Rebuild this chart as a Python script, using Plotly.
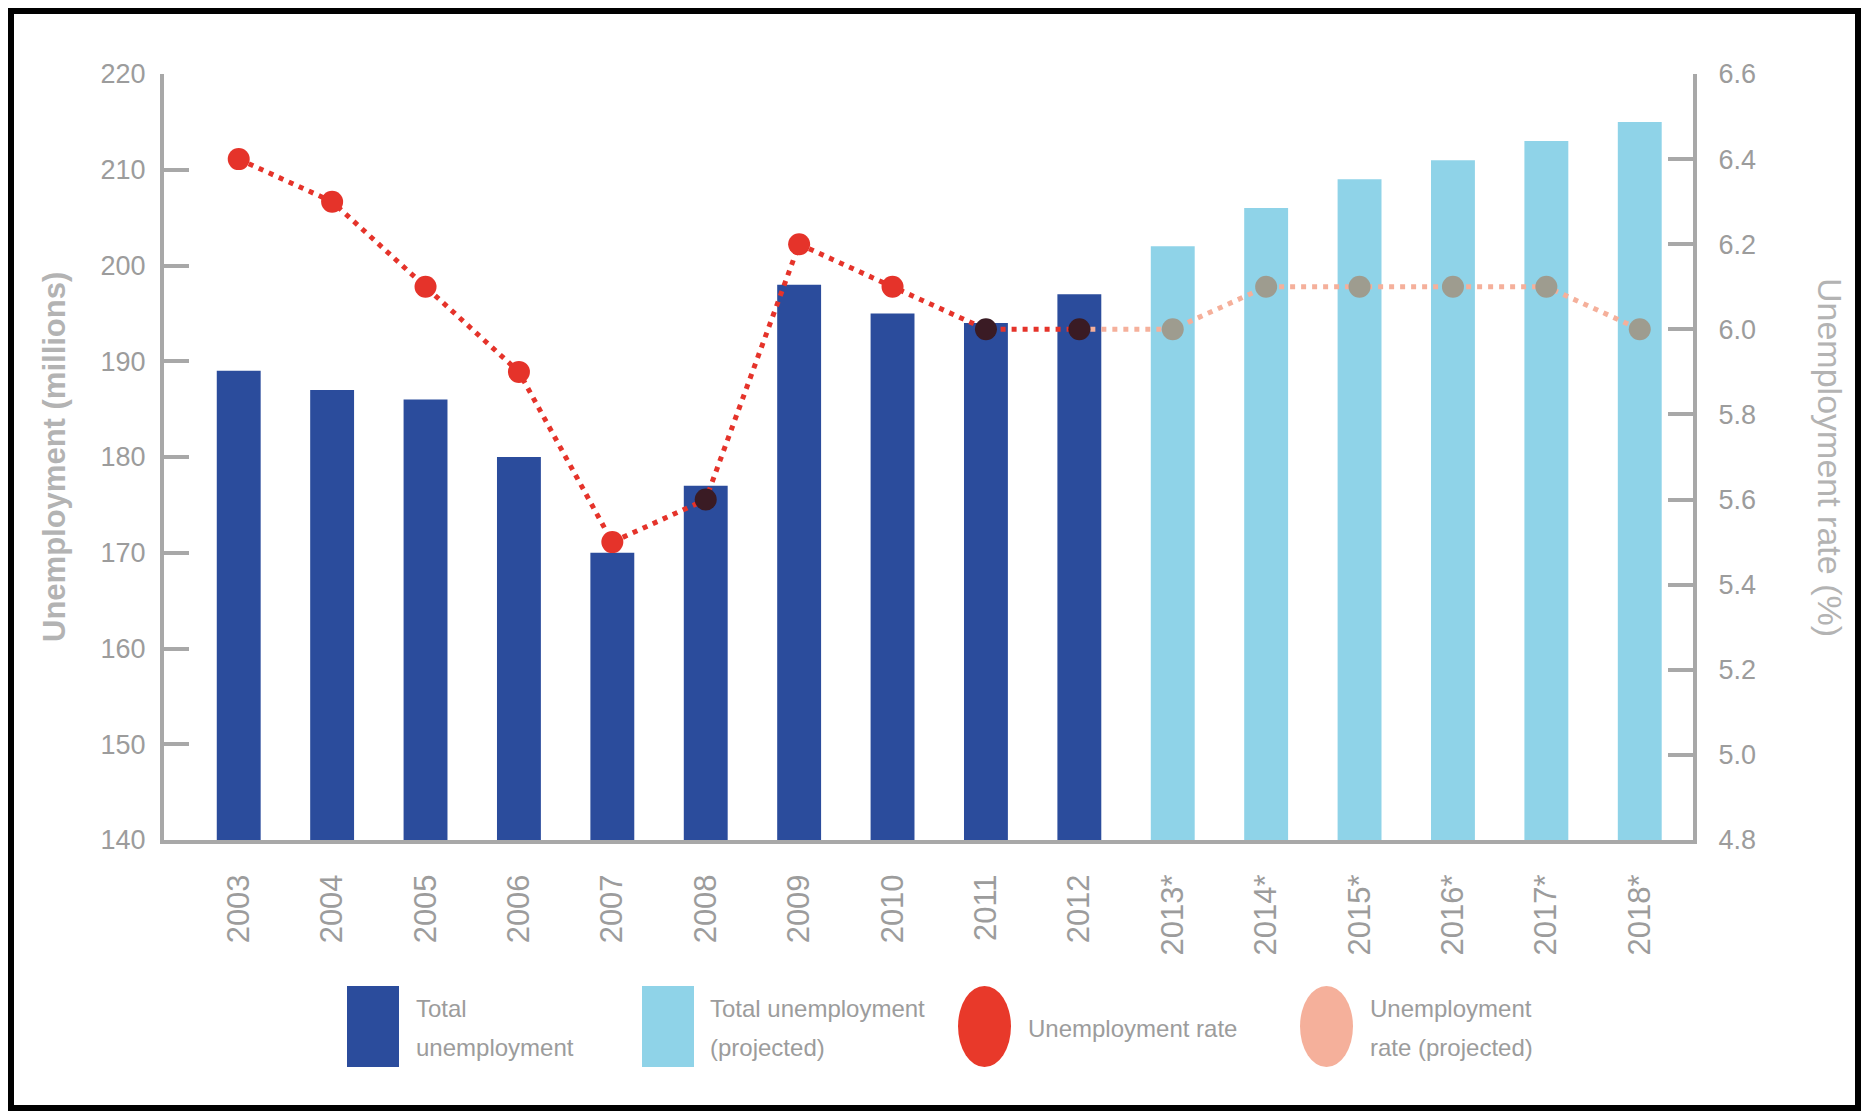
import plotly.graph_objects as go

# ---------------- data ----------------
years_actual = ["2003", "2004", "2005", "2006", "2007", "2008", "2009", "2010", "2011", "2012"]
years_proj = ["2013*", "2014*", "2015*", "2016*", "2017*", "2018*"]
unemp_actual = [189, 187, 186, 180, 170, 177, 198, 195, 194, 197]
unemp_proj = [202, 206, 209, 211, 213, 215]
rate_actual = [6.4, 6.3, 6.1, 5.9, 5.5, 5.6, 6.2, 6.1, 6.0, 6.0]
rate_proj = [6.0, 6.1, 6.1, 6.1, 6.1, 6.0]
left_ticks = [140, 150, 160, 170, 180, 190, 200, 210, 220]
right_ticks = [4.8, 5.0, 5.2, 5.4, 5.6, 5.8, 6.0, 6.2, 6.4, 6.6]
legend_lines = [
    ["Total", "unemployment"],
    ["Total unemployment", "(projected)"],
    ["Unemployment rate"],
    ["Unemployment", "rate (projected)"],
]

# ---------------- layout constants (page pixels) ----------------
PAGE_W, PAGE_H = 1869, 1119
OFF = 8                                  # default body margin of the html page
W, H = PAGE_W - 2 * OFF, PAGE_H - 2 * OFF
PL, PR, PT, PB = 164, 1693, 74, 840      # plot area edges in page pixels
ML, MR, MT, MB = PL - OFF, W - (PR - OFF), PT - OFF, H - (PB - OFF)
PW, PH = W - ML - MR, H - MT - MB
Y1 = [140, 220]
Y2 = [4.8, 6.6]

DARK_BLUE = "#2B4C9C"
LIGHT_BLUE = "#8FD3E8"
RED = "#E5332A"
SALMON = "#F5B09B"
AXIS_GRAY = "#A8A8A8"
TICK_GRAY = "#9C9C9C"
TITLE_GRAY = "#B3B3B3"
REG = "Liberation Sans, Arial, sans-serif"


def px(x):
    return (x - OFF - ML) / PW


def py(y):
    return (H - MB - (y - OFF)) / PH


def to_left(r):
    return Y1[0] + (r - Y2[0]) / (Y2[1] - Y2[0]) * (Y1[1] - Y1[0])


# marker colour: darker where the point sits over its bar
act_cols = ["#3A1B24" if to_left(r) < b else RED for r, b in zip(rate_actual, unemp_actual)]
proj_cols = ["#9E9C8F" if to_left(r) < b else SALMON for r, b in zip(rate_proj, unemp_proj)]

fig = go.Figure()
fig.add_trace(go.Bar(x=years_actual, y=unemp_actual, marker_color=DARK_BLUE,
                     marker_line_width=0, width=0.47, name="Total unemployment"))
fig.add_trace(go.Bar(x=years_proj, y=unemp_proj, marker_color=LIGHT_BLUE,
                     marker_line_width=0, width=0.47, name="Total unemployment (projected)"))

fig.add_trace(go.Scatter(x=[years_actual[-1]] + years_proj, y=[rate_actual[-1]] + rate_proj,
                         yaxis="y2", mode="lines",
                         line=dict(color=SALMON, width=5, dash="5px,6px")))
fig.add_trace(go.Scatter(x=years_actual, y=rate_actual, yaxis="y2", mode="lines",
                         line=dict(color=RED, width=5, dash="5px,6px")))
fig.add_trace(go.Scatter(x=years_proj, y=rate_proj, yaxis="y2", mode="markers",
                         marker=dict(size=22, color=proj_cols, line=dict(width=0))))
fig.add_trace(go.Scatter(x=years_actual, y=rate_actual, yaxis="y2", mode="markers",
                         marker=dict(size=22, color=act_cols, line=dict(width=0))))

shapes = [
    # outer black frame
    dict(type="rect", xref="paper", yref="paper",
         x0=px(OFF + 3), x1=px(PAGE_W - OFF - 3), y0=py(OFF + 3), y1=py(PAGE_H - OFF - 3),
         line=dict(color="black", width=6), fillcolor="rgba(0,0,0,0)", layer="above"),
    # legend swatches
    dict(type="rect", xref="paper", yref="paper", x0=px(347), x1=px(399), y0=py(986), y1=py(1067),
         fillcolor=DARK_BLUE, line_width=0),
    dict(type="rect", xref="paper", yref="paper", x0=px(642), x1=px(694), y0=py(986), y1=py(1067),
         fillcolor=LIGHT_BLUE, line_width=0),
    dict(type="circle", xref="paper", yref="paper", x0=px(958), x1=px(1011), y0=py(986), y1=py(1067),
         fillcolor="#E8392A", line_width=0),
    dict(type="circle", xref="paper", yref="paper", x0=px(1300), x1=px(1353), y0=py(986), y1=py(1067),
         fillcolor=SALMON, line_width=0),
]

leg_font = dict(family=REG, size=24, color=TICK_GRAY)
leg_x = [414, 708, 1026, 1368]
annotations = []
for xpos, lines in zip(leg_x, legend_lines):
    ys = [1028] if len(lines) == 1 else [1008, 1047]
    for txt, ypos in zip(lines, ys):
        annotations.append(dict(text=txt, x=px(xpos), y=py(ypos), xref="paper", yref="paper",
                                xanchor="left", yanchor="middle", align="left",
                                showarrow=False, font=leg_font))
annotations += [
    dict(text="<b>Unemployment (millions)</b>", textangle=-90, x=px(54), y=py(457),
         xref="paper", yref="paper", showarrow=False, xanchor="center", yanchor="middle",
         font=dict(family=REG, size=31, color=TITLE_GRAY)),
    dict(text="Unemployment rate (%)", textangle=90, x=px(1830), y=py(457),
         xref="paper", yref="paper", showarrow=False, xanchor="center", yanchor="middle",
         font=dict(family=REG, size=34, color=TITLE_GRAY)),
]

fig.update_layout(
    width=W, height=H,
    margin=dict(l=ML, r=MR, t=MT, b=MB),
    paper_bgcolor="white", plot_bgcolor="white",
    barmode="overlay", showlegend=False,
    shapes=shapes, annotations=annotations,
    xaxis=dict(type="category", categoryorder="array",
               categoryarray=years_actual + years_proj,
               range=[-0.80, 15.57], tickangle=-90,
               tickfont=dict(family=REG, size=31, color=TICK_GRAY),
               showline=True, linecolor=AXIS_GRAY, linewidth=4,
               ticks="", showgrid=False, zeroline=False, ticklabelstandoff=18),
    yaxis=dict(range=Y1, tickvals=left_ticks, ticks="inside", ticklen=25, tickwidth=4,
               tickcolor=AXIS_GRAY, showline=True, linecolor=AXIS_GRAY, linewidth=4,
               showgrid=False, zeroline=False, ticklabelstandoff=9,
               tickfont=dict(family=REG, size=27, color=TICK_GRAY)),
    yaxis2=dict(range=Y2, tickvals=right_ticks, tickformat=".1f", overlaying="y", side="right",
                ticks="inside", ticklen=25, tickwidth=4, tickcolor=AXIS_GRAY,
                showline=True, linecolor=AXIS_GRAY, linewidth=4,
                showgrid=False, zeroline=False, ticklabelstandoff=16,
                tickfont=dict(family=REG, size=27, color=TICK_GRAY)),
)

fig.write_html("out.html")
